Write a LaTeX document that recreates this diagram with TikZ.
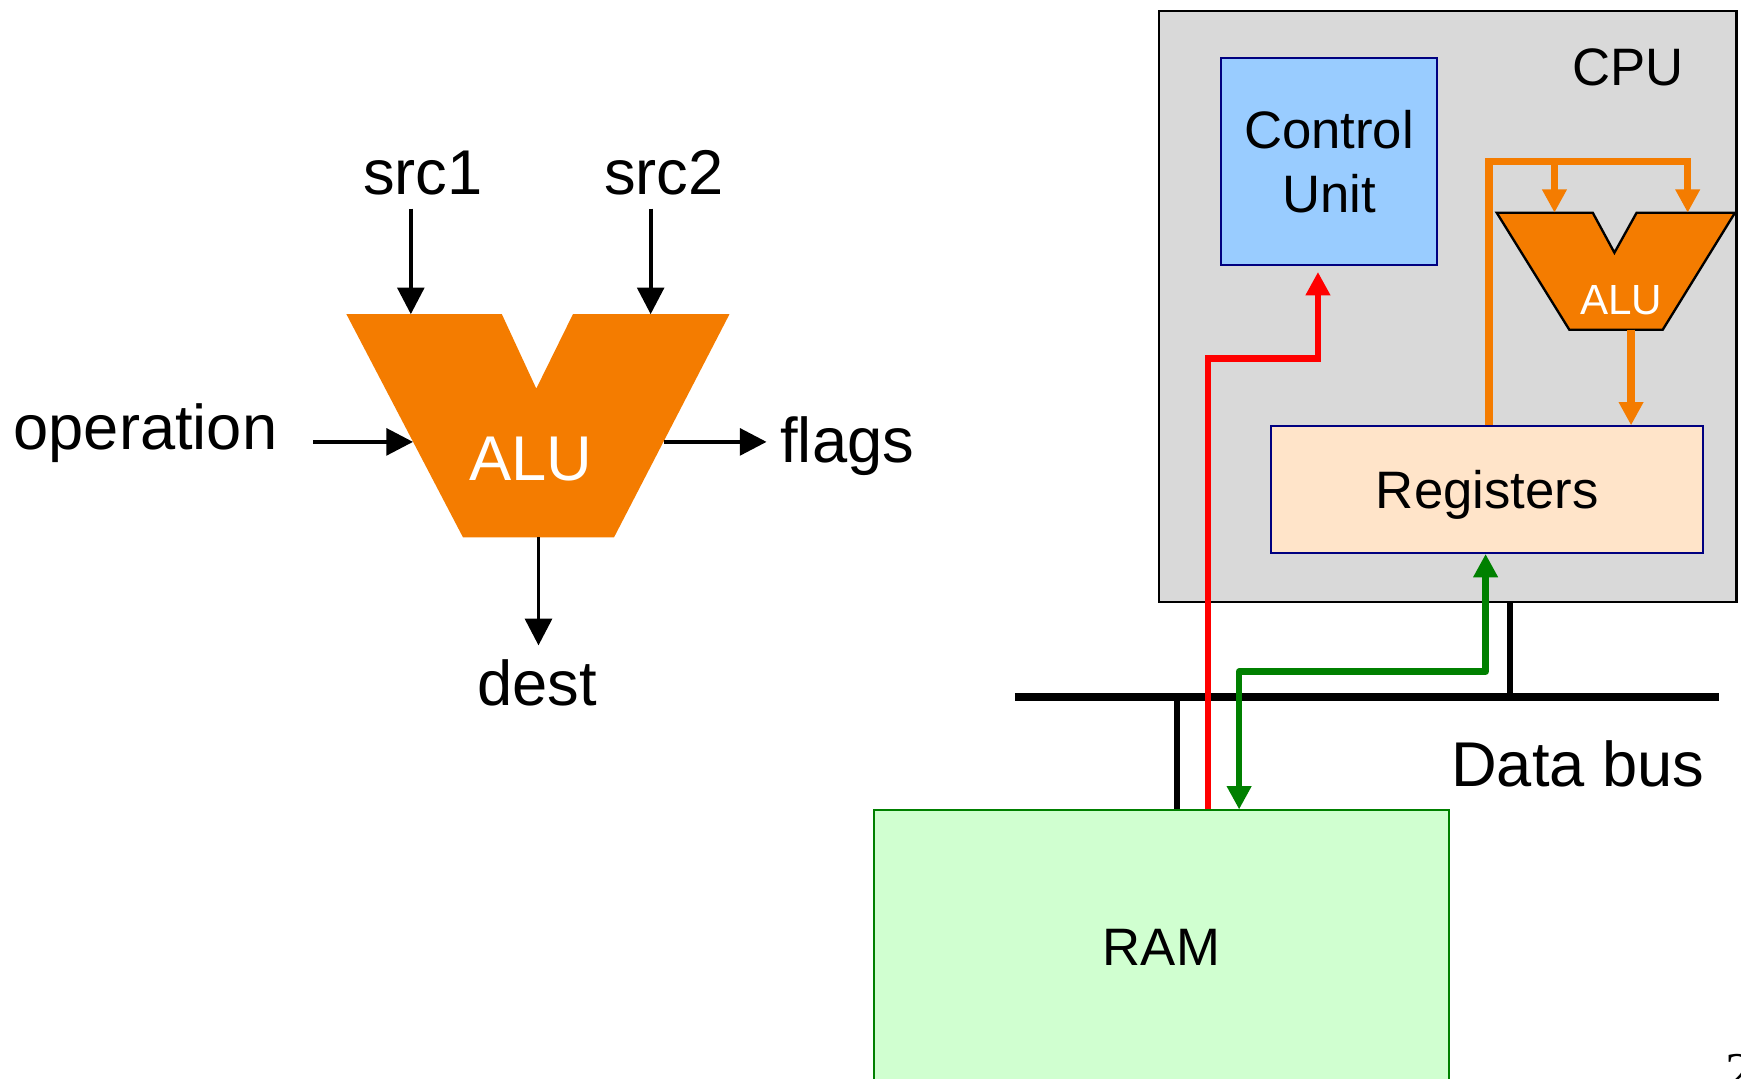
\documentclass[tikz,border=0pt]{standalone}
\usepackage{fontspec}
\setmainfont{Liberation Sans}
\newfontfamily\pagefont{Liberation Serif}
\usepackage{tikz}
\usetikzlibrary{arrows.meta,positioning,calc}

\definecolor{aluorange}{RGB}{244,124,0}
\definecolor{cpugray}{RGB}{217,217,217}
\definecolor{cublue}{RGB}{153,204,255}
\definecolor{regpeach}{RGB}{255,228,201}
\definecolor{ramgreen}{RGB}{208,255,208}
\definecolor{linkgreen}{RGB}{0,128,0}
\definecolor{boxnavy}{RGB}{0,0,128}

\begin{document}
\begin{tikzpicture}[x=0.01cm, y=-0.01cm,
  big/.style={font=\fontsize{16.2}{19}\selectfont},
  mid/.style={font=\fontsize{13.5}{16.2}\selectfont},
  tag/.style={big, anchor=base},
  sig/.style={line width=1pt, -{Triangle[length=2.4mm,width=2.4mm]}},
  unitbox/.style={draw=boxnavy, line width=0.5pt, mid, align=center},
  feed/.style={aluorange, line width=1.85pt, -{Triangle[length=2.1mm,width=2.1mm]}},
  ctrl/.style={red, line width=1.7pt, -{Triangle[length=2.1mm,width=2.1mm]}},
  data/.style={linkgreen, line width=1.7pt, line join=round,
    {Triangle[length=2.1mm,width=2.1mm]}-{Triangle[length=2.1mm,width=2.1mm]}},
  bus/.style={line width=2pt},
  stub/.style={line width=1.7pt}
  ]

\useasboundingbox (0,0) rectangle (1568,971);
\clip (0,0) rectangle (1568,971);

%% ALU on its own
\fill[aluorange] (312,283) -- (452,283) -- (483,350) -- (516,283)
  -- (657,283) -- (553,484) -- (417,484) -- cycle;
\node[tag, text=white] (alu) at (478,432.5) {ALU};
\coordinate (alu-in1) at (370,283);
\coordinate (alu-in2) at (586,283);
\coordinate (alu-op) at (372,398);
\coordinate (alu-flags) at (598,398);
\coordinate (alu-out) at (485,484);

\node[tag] (src1) at (381,175) {src1};
\node[tag] (src2) at (598,175) {src2};
\node[tag] (op) at (131,405) {operation};
\node[tag] (flags) at (763,417) {flags};
\node[tag] (dest) at (484,635) {dest};

\draw[sig] (src1.south -| alu-in1) -- (alu-in1);
\draw[sig] (src2.south -| alu-in2) -- (alu-in2);
\draw[sig, shorten <=2mm] (op.east |- alu-op) -- (alu-op);
\draw[sig] (alu-flags) -- (flags.west |- alu-flags);
\draw[sig] (alu-out) -- (dest.north -| alu-out);

%% CPU
\node[draw, fill=cpugray, line width=0.7pt,
  minimum width=5.2cm, minimum height=5.32cm] (cpu) at (1304,276) {};
\node[mid, anchor=base] (cpulabel) at (1466,77) {CPU};
\node[unitbox, fill=cublue, minimum width=1.94cm, minimum height=1.87cm]
  (cu) at (1197,145.5) {Control\\Unit};
\node[unitbox, fill=regpeach, minimum width=3.89cm, minimum height=1.14cm,
  text depth=0pt] (reg) at (1339.5,441) {Registers};

% small ALU inside the CPU
\filldraw[fill=aluorange, draw=black, line width=0.6pt]
  (1348,191.6) -- (1434.5,191.6) -- (1454,227.6) -- (1474,191.6)
  -- (1562.6,191.6) -- (1497.5,297) -- (1413.4,297) -- cycle;
\node[font=\fontsize{10.8}{13}\selectfont, text=white, anchor=base]
  (alu2) at (1460,283.5) {ALU};
\coordinate (alu2-in1) at (1400,191.6);
\coordinate (alu2-in2) at (1520,191.6);
\coordinate (alu2-out) at (1469,297);
\coordinate (fbtap) at (1341,145.6);

\draw[feed] (reg.north -| fbtap) -- (fbtap) -| (alu2-in2);
\draw[feed] (alu2-in1 |- fbtap) -- (alu2-in1);
\draw[feed] (alu2-out) -- (reg.north -| alu2-out);

%% RAM and data bus
\node[draw=linkgreen, fill=ramgreen, line width=0.5pt, mid,
  minimum width=5.18cm, minimum height=2.46cm] (ram) at (1046,853) {RAM};

\coordinate (busL) at (914,628);
\coordinate (busR) at (1548,628);
\coordinate (cputap) at (1360,628);
\coordinate (ramtap) at (1060,628);
\draw[bus] (busL) -- (busR);
\draw[stub] (cpu.south -| cputap) -- (cputap);
\draw[stub] (ramtap) -- (ram.north -| ramtap);
\node[tag] (buslabel) at (1421,708.5) {Data bus};

% control and data paths
\coordinate (redx) at (1088,730);
\coordinate (redturn) at (1187,323);
\draw[ctrl, shorten >=0.5mm] (ram.north -| redx) |- (redturn) -- (cu.south -| redturn);
\coordinate (regtap) at (1338,498);
\coordinate (dataturn) at (1116,605);
\draw[data] (reg.south -| regtap) |- (dataturn) -- (ram.north -| dataturn);

% page number, cut at the edge
\node[font=\pagefont\fontsize{14}{16}\selectfont, anchor=north west, inner sep=0]
  (pagenum) at (1553,949) {2};

\end{tikzpicture}
\end{document}
